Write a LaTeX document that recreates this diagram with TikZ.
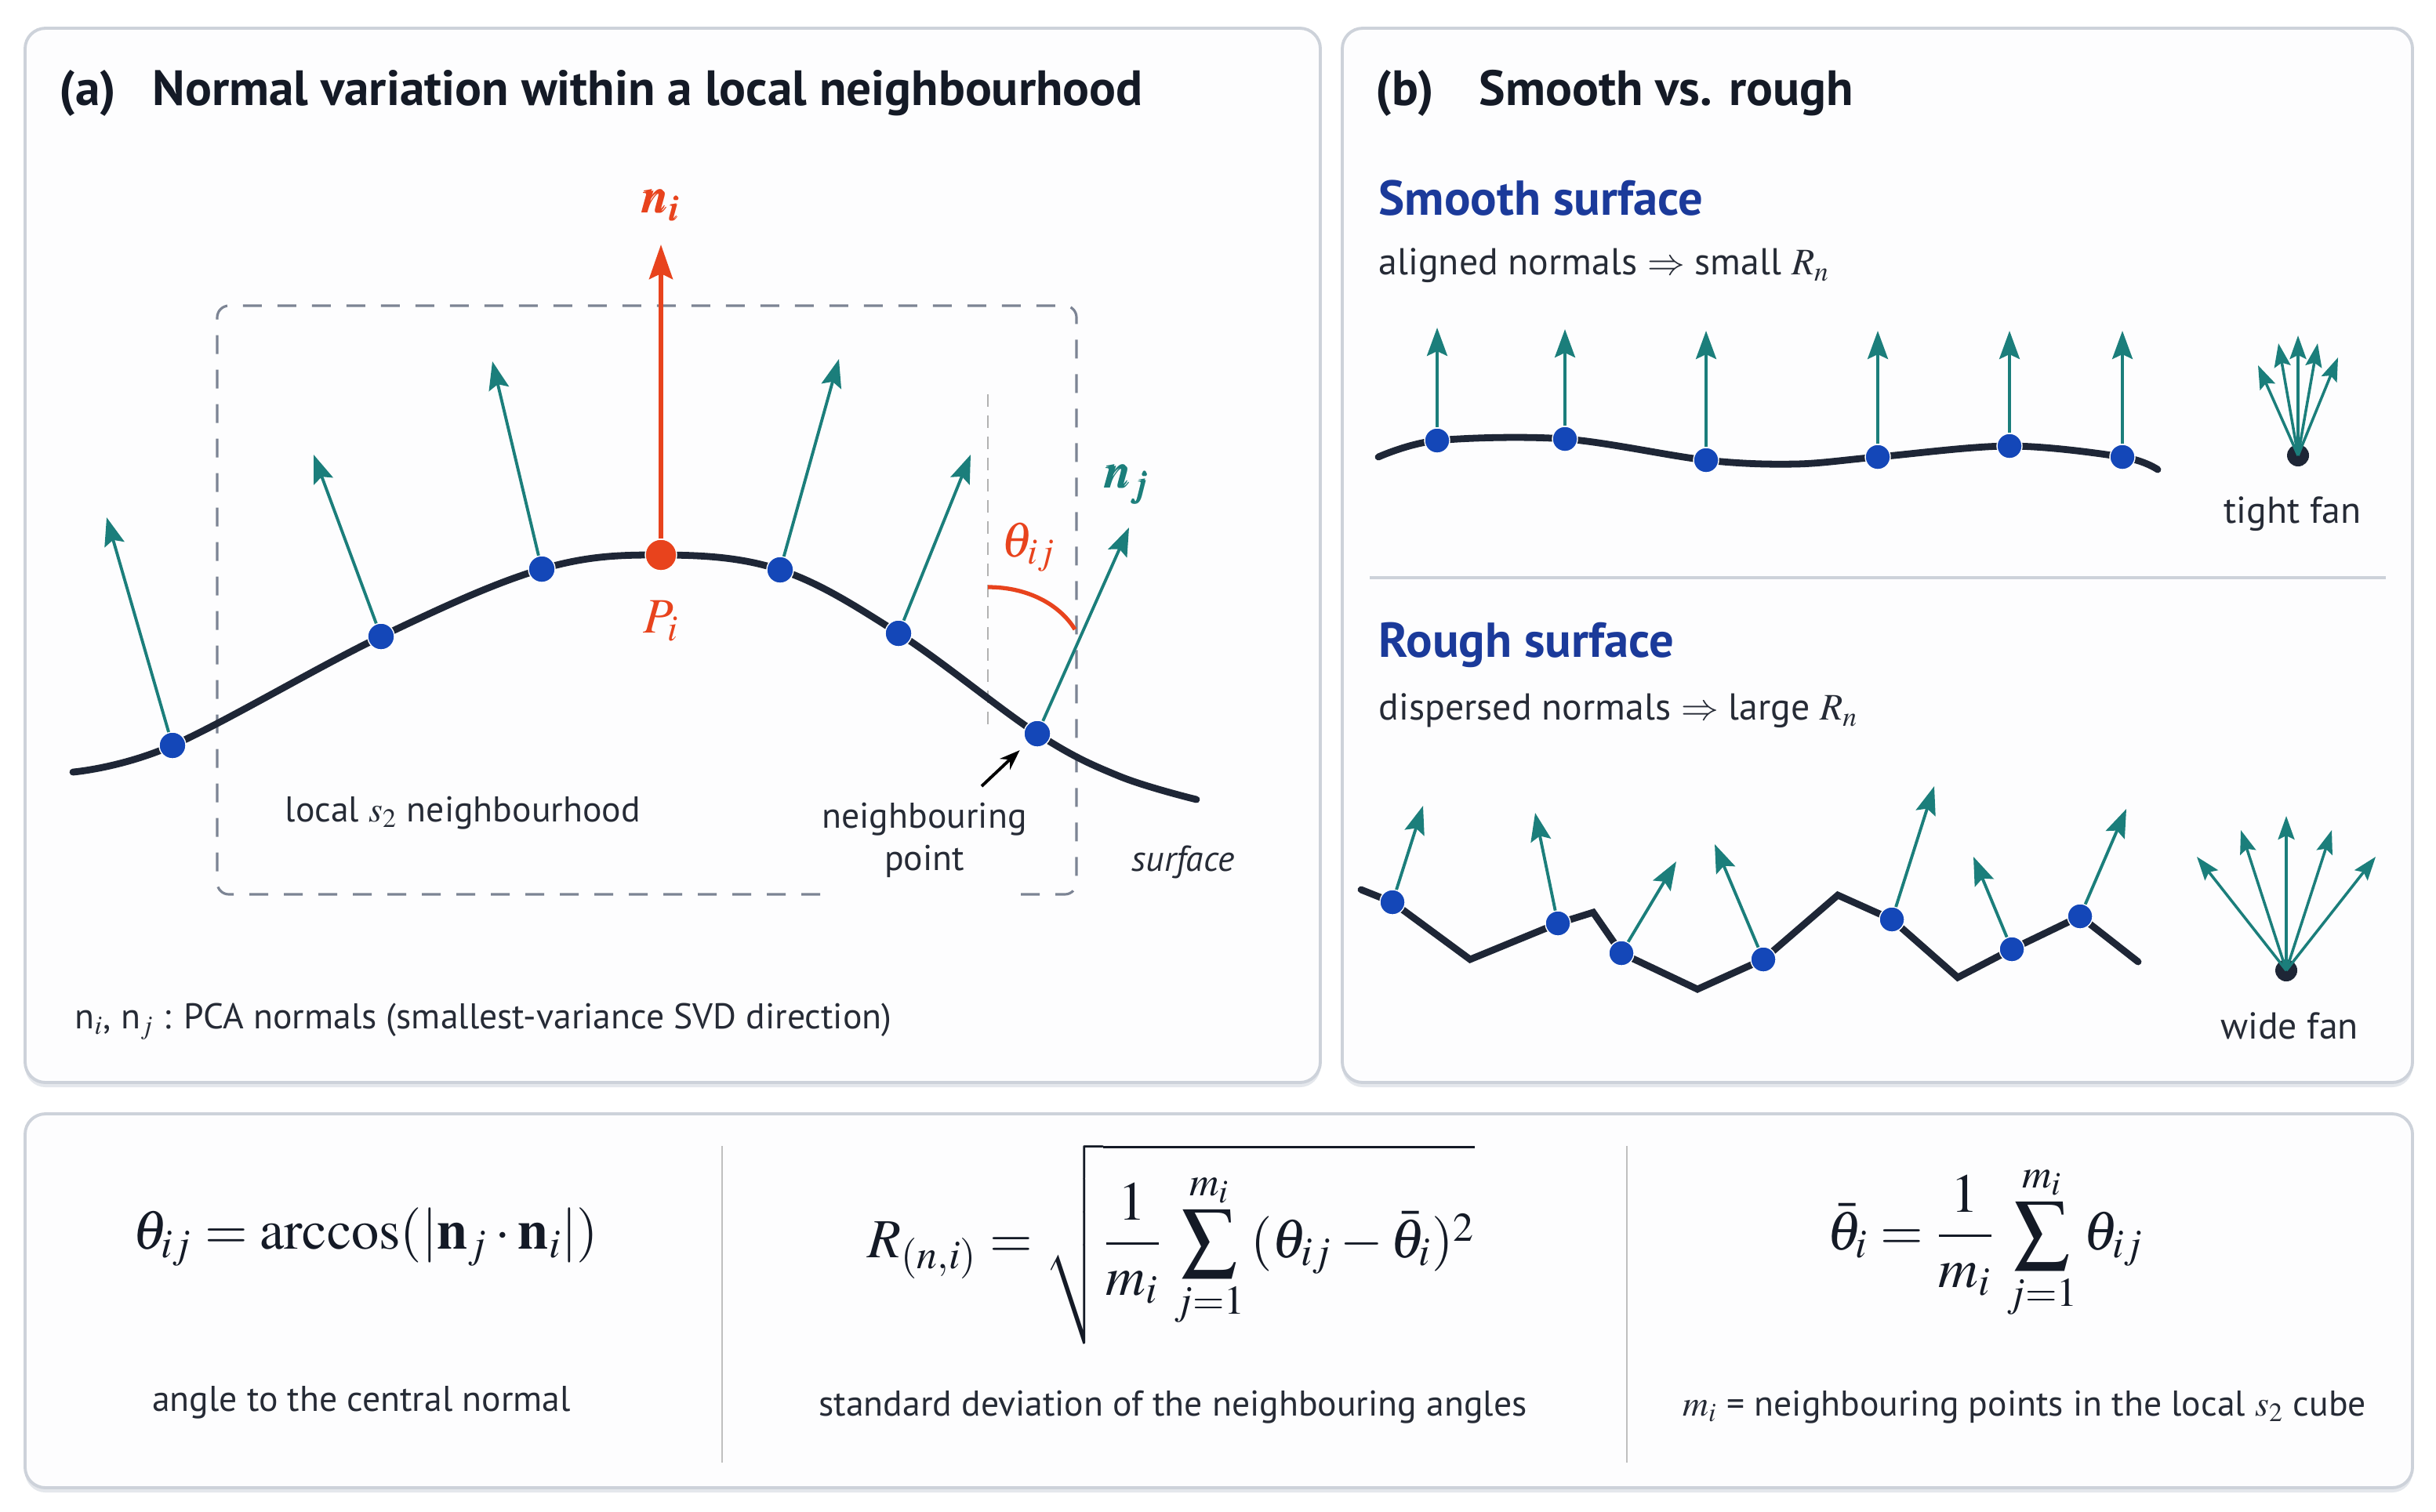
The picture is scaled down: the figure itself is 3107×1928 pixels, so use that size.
\documentclass[tikz,border=0pt]{standalone}
\usepackage{mathptmx}
\usepackage{bm}
\usepackage[no-math]{fontspec}
\setmainfont{PT Sans}
\usetikzlibrary{arrows.meta}
\definecolor{tealc}{HTML}{1B7E7B}
\definecolor{dotblue}{HTML}{1447B8}
\definecolor{redc}{HTML}{E8431D}
\definecolor{curvec}{HTML}{1E2636}
\definecolor{panelb}{HTML}{CDD2DA}
\definecolor{panelfill}{HTML}{FDFDFE}
\definecolor{shadowc}{HTML}{E4E7EC}
\definecolor{headblue}{HTML}{1B3A9A}
\definecolor{dashg}{HTML}{7C8494}
\definecolor{ink}{HTML}{141A26}
\definecolor{ink2}{HTML}{262B36}
\begin{document}
\begin{tikzpicture}[x=0.1mm,y=-0.1mm,
  panel/.style={draw=panelb,line width=1.1pt,fill=panelfill,rounded corners=2.6mm},
  pshadow/.style={fill=shadowc,rounded corners=2.6mm},
  dotb/.style={circle,fill=dotblue,draw=white,line width=0.4pt,inner sep=0,minimum size=3.4mm},
  dots/.style={circle,fill=dotblue,draw=white,line width=0.4pt,inner sep=0,minimum size=3.2mm},
  dotr/.style={circle,fill=redc,draw=white,line width=0.4pt,inner sep=0,minimum size=4mm},
  dotk/.style={circle,fill=curvec,inner sep=0,minimum size=2.8mm},
  tarrow/.style={draw=tealc,line width=1.1pt,-{Stealth[length=3.6mm,width=2.6mm,inset=0.6mm]}},
  farrow/.style={draw=tealc,line width=1pt,-{Stealth[length=3mm,width=2.1mm,inset=0.5mm]}},
  rarrow/.style={draw=redc,line width=1.6pt,-{Stealth[length=4.4mm,width=3mm,inset=0.7mm]}},
  karrow/.style={draw=black,line width=1.1pt,-{Stealth[length=2.6mm,width=1.9mm]}},
  surf/.style={draw=curvec,line width=2.5pt,line cap=round,line join=round},
  ptitle/.style={font=\fontsize{18}{21}\selectfont\bfseries,text=ink,anchor=west,inner sep=0},
  subhead/.style={font=\fontsize{17.8}{21}\selectfont\bfseries,text=headblue,anchor=west,inner sep=0},
  body/.style={font=\fontsize{13}{15.5}\selectfont,text=ink2,inner sep=0},
  bodyb/.style={font=\fontsize{13.6}{16}\selectfont,text=ink2,inner sep=0},
  mathlab/.style={font=\fontsize{18}{21}\selectfont,inner sep=0},
  formula/.style={font=\fontsize{20}{24}\selectfont,text=ink,inner sep=0}
]
\useasboundingbox (0,0) rectangle (3107,1928);
\fill[white] (0,0) rectangle (3107,1928);

% panels
\fill[pshadow] (32,42) rectangle (1684,1387);
\fill[pshadow] (1712,42) rectangle (3077,1387);
\fill[pshadow] (32,1427) rectangle (3077,1904);
\draw[panel] (32,36) rectangle (1684,1381);
\draw[panel] (1712,36) rectangle (3077,1381);
\draw[panel] (32,1421) rectangle (3077,1898);

% ---------------- panel (a)
\node[ptitle] (ta) at (75,119) {(a)};
\node[ptitle] (tta) at (194,119) {Normal variation within a local neighbourhood};

% dashed neighbourhood box (gap at label)
\draw[dashg,line width=0.9pt,dash pattern=on 2.4mm off 2mm,rounded corners=1.5mm]
  (1046,1141) -- (277,1141) -- (277,390) -- (1373,390) -- (1373,1141) -- (1285,1141);

% reference line
\draw[black!30,line width=0.6pt,dash pattern=on 1.6mm off 1.1mm] (1260,503) -- (1260,928);

% surface curve
\draw[surf] plot[smooth,tension=0.6] coordinates {(93,985) (220,951) (486,812) (691,726) (843,708) (995,727) (1146,808) (1323,936) (1427,990) (1526,1020)};

\coordinate (t1) at (136,660);
\coordinate (t2) at (400,580);
\coordinate (t3) at (628,461);
\coordinate (tni) at (843,312);
\coordinate (t4) at (1070,458);
\coordinate (t5) at (1238,580);
\coordinate (t6) at (1440,673);

\node[dotb] (a1) at (220,951) {};
\node[dotb] (a2) at (486,812) {};
\node[dotb] (a3) at (691,726) {};
\node[dotr] (pi) at (843,708) {};
\node[dotb] (a4) at (995,727) {};
\node[dotb] (a5) at (1146,808) {};
\node[dotb] (a6) at (1323,936) {};

\draw[tarrow] (a1) -- (t1);
\draw[tarrow] (a2) -- (t2);
\draw[tarrow] (a3) -- (t3);
\draw[rarrow] (pi) -- (tni);
\draw[tarrow] (a4) -- (t4);
\draw[tarrow] (a5) -- (t5);
\draw[tarrow] (a6) -- (t6);

\node[mathlab,text=redc] (lni) at (843,262) {$\bm{n}_{\bm{i}}$};
\node[mathlab,text=redc] (lpi) at (843,792) {$P_i$};
\node[mathlab,text=tealc] (lnj) at (1437,618) {$\bm{n}_{\bm{j}}$};
\node[mathlab,text=redc] (lth) at (1312,698) {$\theta_{ij}$};

\coordinate (arcA) at (1260,749);
\coordinate (arcB) at (1371,803);
\draw[redc,line width=1.5pt] (arcA) .. controls (1312,749) and (1352,772) .. (arcB);

% labels
\node[body,anchor=west] (lnb) at (363,1037) {local $s_2$ neighbourhood};
\node[body,align=center] (lnp) at (1179,1072) {neighbouring\\point};
\coordinate (nps) at (1252,1003);
\draw[karrow,shorten >=1.3mm] (nps) -- (a6);
\node[body,anchor=west] (lsf) at (1443,1100) {\itshape surface};
\node[body,anchor=west] (lfn) at (95,1303) {n$_i$, n$_j$ : PCA normals (smallest-variance SVD direction)};

% ---------------- panel (b)
\node[ptitle] (tb) at (1754,119) {(b)};
\node[ptitle] (ttb) at (1886,119) {Smooth vs. rough};

\node[subhead] (hs) at (1758,253) {Smooth surface};
\node[bodyb,anchor=west] (ds) at (1758,339) {aligned normals $\Rightarrow$ small $R_n$};

\draw[surf] plot[smooth,tension=0.55] coordinates {(1758,583) (1833,562) (1996,560) (2176,587) (2290,592) (2395,583) (2563,569) (2707,583) (2752,599)};

\node[dots] (s1) at (1833,562) {};
\node[dots] (s2) at (1996,560) {};
\node[dots] (s3) at (2176,587) {};
\node[dots] (s4) at (2395,583) {};
\node[dots] (s5) at (2563,569) {};
\node[dots] (s6) at (2707,583) {};
\coordinate (u1) at (1833,418);
\coordinate (u2) at (1996,420);
\coordinate (u3) at (2176,422);
\coordinate (u4) at (2395,422);
\coordinate (u5) at (2563,422);
\coordinate (u6) at (2707,422);
\draw[tarrow] (s1) -- (u1);
\draw[tarrow] (s2) -- (u2);
\draw[tarrow] (s3) -- (u3);
\draw[tarrow] (s4) -- (u4);
\draw[tarrow] (s5) -- (u5);
\draw[tarrow] (s6) -- (u6);

% tight fan
\node[dotk] (fa) at (2931,581) {};
\coordinate (fa1) at (2880,466);
\coordinate (fa2) at (2906,438);
\coordinate (fa3) at (2931,428);
\coordinate (fa4) at (2956,438);
\coordinate (fa5) at (2982,456);
\draw[farrow] (fa.center) -- (fa1);
\draw[farrow] (fa.center) -- (fa2);
\draw[farrow] (fa.center) -- (fa3);
\draw[farrow] (fa.center) -- (fa4);
\draw[farrow] (fa.center) -- (fa5);
\node[bodyb] (ltf) at (2924,656) {tight fan};

\draw[panelb,line width=1.1pt] (1747,737) -- (3043,737);

\node[subhead] (hr) at (1758,823) {Rough surface};
\node[bodyb,anchor=west] (dr) at (1758,907) {dispersed normals $\Rightarrow$ large $R_n$};

\draw[surf,line join=miter] (1736,1135) -- (1776,1151) -- (1875,1224) -- (1987,1178) -- (2032,1164) -- (2068,1216) -- (2165,1262) -- (2249,1224) -- (2344,1142) -- (2413,1173) -- (2497,1247) -- (2566,1211) -- (2653,1169) -- (2727,1227);

\node[dots] (r1) at (1776,1151) {};
\node[dots] (r2) at (1987,1178) {};
\node[dots] (r3) at (2068,1216) {};
\node[dots] (r4) at (2249,1224) {};
\node[dots] (r5) at (2413,1173) {};
\node[dots] (r6) at (2566,1211) {};
\node[dots] (r7) at (2653,1169) {};
\coordinate (v1) at (1815,1028);
\coordinate (v2) at (1958,1037);
\coordinate (v3) at (2138,1099);
\coordinate (v4) at (2187,1077);
\coordinate (v5) at (2467,1003);
\coordinate (v6) at (2517,1093);
\coordinate (v7) at (2712,1032);
\draw[tarrow] (r1) -- (v1);
\draw[tarrow] (r2) -- (v2);
\draw[tarrow] (r3) -- (v3);
\draw[tarrow] (r4) -- (v4);
\draw[tarrow] (r5) -- (v5);
\draw[tarrow] (r6) -- (v6);
\draw[tarrow] (r7) -- (v7);

% wide fan
\node[dotk] (fb) at (2916,1238) {};
\coordinate (fb1) at (2802,1093);
\coordinate (fb2) at (2858,1059);
\coordinate (fb3) at (2916,1041);
\coordinate (fb4) at (2974,1059);
\coordinate (fb5) at (3030,1093);
\draw[farrow] (fb.center) -- (fb1);
\draw[farrow] (fb.center) -- (fb2);
\draw[farrow] (fb.center) -- (fb3);
\draw[farrow] (fb.center) -- (fb4);
\draw[farrow] (fb.center) -- (fb5);
\node[bodyb] (lwf) at (2920,1309) {wide fan};

% ---------------- bottom panel
\draw[black!25,line width=0.7pt] (921,1462) -- (921,1866);
\draw[black!25,line width=0.7pt] (2075,1462) -- (2075,1866);

\node[formula] (f1) at (466,1578) {$\displaystyle \theta_{ij} = \arccos(|\mathbf{n}_j\cdot\mathbf{n}_i|)$};
\node[formula] (f2) at (1494,1587) {$\displaystyle R_{(n,i)} = \sqrt{\frac{1}{m_i}\,\sum_{j=1}^{m_i}\,(\theta_{ij}-\bar{\theta}_i)^2}$};
\node[formula] (f3) at (2532,1585) {$\displaystyle \bar{\theta}_i = \frac{1}{m_i}\,\sum_{j=1}^{m_i}\theta_{ij}$};

\node[body] (c1) at (461,1789) {angle to the central normal};
\node[body] (c2) at (1496,1795) {standard deviation of the neighbouring angles};
\node[body] (c3) at (2582,1795) {$m_i$ = neighbouring points in the local $s_2$ cube};
\end{tikzpicture}
\end{document}
